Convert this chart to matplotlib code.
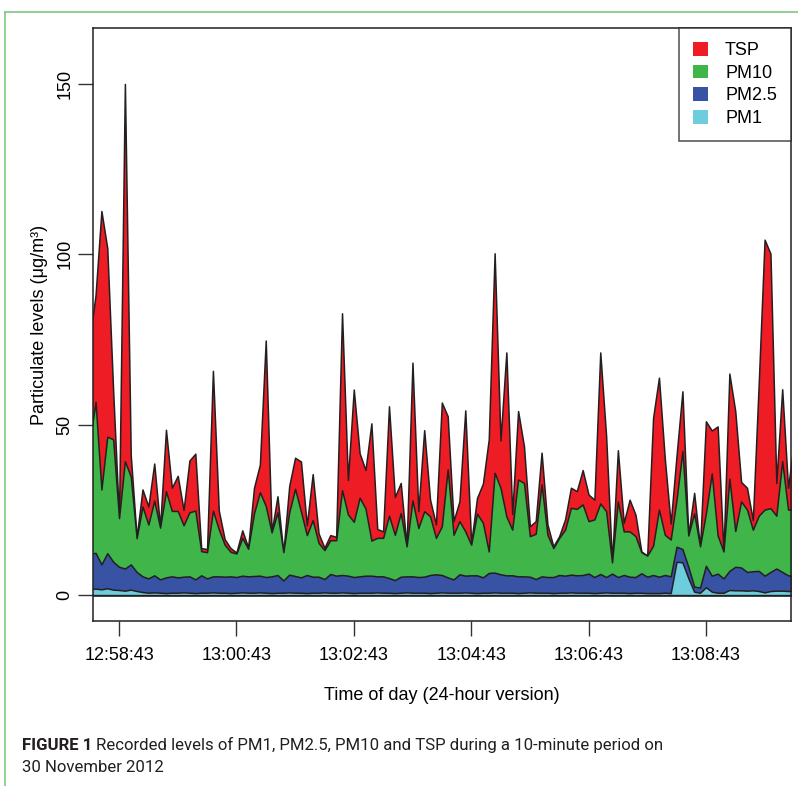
import matplotlib
matplotlib.use("Agg")
import matplotlib.pyplot as plt
import matplotlib.dates as mdates
from matplotlib.patches import Patch
from matplotlib.lines import Line2D
import pandas as pd

# 6-second samples, first one at 12:58:13 (just left of the plot edge)
start_time = "2012-11-30 12:58:13"
n_samples = 121

tsp = [75, 88, 112.7, 101.8, 60, 22.5, 150, 41, 17, 31,
       26, 38.6, 20, 48.5, 31.5, 35, 25, 39.5, 41.5, 13.8,
       13.5, 65.8, 24.8, 16.4, 13.8, 12.5, 19, 14, 31.5, 38.3,
       74.7, 18.5, 29, 12.5, 32, 40.3, 39.2, 20.5, 35.5, 18.1,
       13.9, 17.6, 17.1, 82.7, 33.8, 60.3, 41.6, 36.7, 50.4, 19.4,
       18.7, 55.4, 28.8, 32.9, 14.3, 68.2, 24.6, 48.4, 28, 20.7,
       56.5, 52.5, 21.7, 27.5, 54.2, 15.3, 28.5, 32.7, 45.7, 100.3,
       45.4, 71.2, 23.8, 54, 43.7, 20.2, 21.7, 41.8, 20.7, 14.3,
       17.3, 22.2, 31.5, 30.5, 36.7, 29.5, 28, 71.2, 46.7, 9.6,
       42.5, 21.2, 28, 23.6, 12.8, 11.6, 52, 63.8, 40, 21,
       41, 59.8, 17.6, 30, 14, 51, 48.3, 49.5, 12.7, 65,
       54, 33.2, 31.5, 22, 62, 104.3, 100.2, 32.9, 60.4, 31.5,
       45]

pm10 = [45, 56.7, 31, 46.5, 45.7, 22.6, 39.3, 34.8, 16.7, 26,
        20.7, 27.7, 19.8, 30.5, 24.7, 24.7, 20.5, 24.3, 24.8, 12.9,
        12.6, 24.8, 19.3, 14.8, 12.7, 12.2, 16.8, 13.6, 24, 30.2,
        26.2, 18.4, 24.3, 12.6, 24.3, 31.2, 24.5, 17.6, 22, 15.3,
        13.2, 16.1, 16.1, 30.8, 23.7, 21.5, 28.6, 25.4, 16, 16.8,
        16.8, 23.3, 17.7, 24.1, 14.3, 27.8, 19.7, 24.6, 23.1, 16.8,
        20.2, 36.9, 17.7, 21.7, 18.7, 14.8, 23.9, 21.2, 12.8, 35.9,
        31.5, 23.1, 19.2, 33.9, 32.9, 17.3, 18, 32.5, 17.7, 13.8,
        16.8, 19.2, 25.6, 25.3, 26.6, 21.7, 22.2, 26.9, 24.6, 9.6,
        27.5, 18.7, 18.7, 17.3, 12.6, 11.6, 14.5, 25.1, 17.7, 16.3,
        28, 42.3, 17.5, 24, 14.3, 24, 35.7, 17.5, 12.8, 34.2,
        18.8, 27.5, 25.1, 19.2, 23.3, 25.1, 25.5, 23.3, 39.3, 25.1,
        25]

pm25 = [12, 12.4, 9, 12.3, 9.8, 8.3, 7.8, 9, 6.8, 5.5,
        4.9, 5.8, 4.6, 5.2, 5.5, 5.2, 5.4, 5.5, 4.6, 5.8,
        4.9, 5.5, 5.5, 5.4, 5.5, 5.3, 5.7, 5.5, 5.6, 5.7,
        5.3, 5.5, 5.9, 4.3, 6.0, 5.6, 5.2, 5.9, 5.4, 5.4,
        4.7, 6.2, 5.7, 5.9, 5.7, 5.3, 5.5, 5.7, 5.7, 5.5,
        5.5, 5.0, 4.4, 5.4, 5.5, 5.5, 5.3, 5.4, 5.9, 6.1,
        5.9, 5.2, 4.6, 6.1, 5.7, 5.8, 5.8, 5.2, 6.5, 6.6,
        6.1, 5.8, 5.8, 5.5, 5.5, 5.4, 4.7, 5.5, 5.3, 5.3,
        5.9, 5.7, 6.0, 5.8, 5.9, 6.3, 5.3, 6.2, 5.3, 6.3,
        5.3, 5.9, 5.4, 5.3, 6.4, 5.4, 5.9, 5.4, 5.9, 5.5,
        14.2, 13.5, 8.3, 2.5, 2.2, 8.6, 5.7, 6.3, 4.9, 7.1,
        8.3, 8.1, 6.8, 7.0, 7.1, 5.7, 6.8, 7.8, 6.8, 5.8,
        5.6]

pm1 = [1.8, 1.9, 1.7, 2.0, 1.6, 1.5, 1.3, 1.6, 1.2, 0.9,
       0.7, 0.8, 0.7, 0.6, 0.7, 0.7, 0.8, 0.7, 0.6, 0.7,
       0.7, 0.8, 0.7, 0.7, 0.6, 0.7, 0.8, 0.7, 0.7, 0.8,
       0.7, 0.6, 0.7, 0.7, 0.8, 0.7, 0.7, 0.6, 0.7, 0.7,
       0.8, 0.7, 0.7, 0.8, 0.7, 0.6, 0.7, 0.7, 0.7, 0.8,
       0.7, 0.7, 0.6, 0.7, 0.8, 0.7, 0.7, 0.7, 0.6, 0.7,
       0.8, 0.7, 0.7, 0.7, 0.8, 0.7, 0.6, 0.7, 0.7, 0.8,
       0.7, 0.7, 0.7, 0.6, 0.7, 0.8, 0.7, 0.7, 0.7, 0.6,
       0.7, 0.7, 0.8, 0.7, 0.7, 0.7, 0.6, 0.7, 0.8, 0.7,
       0.7, 0.7, 0.6, 0.7, 0.7, 0.6, 0.6, 0.6, 0.7, 0.6,
       9.8, 9.6, 5.0, 1.0, 0.7, 2.3, 1.0, 0.7, 0.7, 1.5,
       1.4, 1.4, 1.3, 1.4, 1.2, 0.8, 1.2, 1.3, 1.3, 1.2,
       1.2]

series_names = ["TSP", "PM10", "PM2.5", "PM1"]
series_colors = ["#ee1c25", "#3fb54a", "#3953a4", "#6dcddd"]

tick_labels = ["12:58:43", "13:00:43", "13:02:43", "13:04:43", "13:06:43", "13:08:43"]
y_ticks = [0, 50, 100, 150]

times = pd.date_range(start_time, periods=n_samples, freq="6s")
x = mdates.date2num(times.to_pydatetime())
tick_pos = mdates.date2num(pd.to_datetime(["2012-11-30 " + t for t in tick_labels]).to_pydatetime())
x_lo = mdates.date2num(pd.Timestamp("2012-11-30 12:58:16.4").to_pydatetime())
x_hi = mdates.date2num(pd.Timestamp("2012-11-30 13:10:10").to_pydatetime())

plt.rcParams["font.family"] = ["Liberation Sans", "DejaVu Sans"]

fig = plt.figure(figsize=(7.98, 7.86), dpi=100)
ax = fig.add_axes([93 / 798, 1 - 621 / 786, (791 - 93) / 798, (621 - 28) / 786])

for vals, col in zip([tsp, pm10, pm25, pm1], series_colors):
    ax.fill_between(x, 0, vals, facecolor=col, edgecolor="#231f20", linewidth=1.1)

ax.set_xlim(x_lo, x_hi)
ax.set_ylim(-7.6, 166.4)
ax.set_xticks(tick_pos)
ax.set_xticklabels(tick_labels)
ax.set_yticks(y_ticks)
ax.set_yticklabels([str(v) for v in y_ticks], rotation=90, va="center")
ax.tick_params(axis="both", direction="out", length=11, width=1, labelsize=13, pad=8, color="#333333")
ax.tick_params(axis="y", pad=3)
for sp in ax.spines.values():
    sp.set_linewidth(1.1)
    sp.set_color("#231f20")

ax.set_xlabel("Time of day (24-hour version)", fontsize=13, labelpad=16)
ax.set_ylabel("Particulate levels (μg/m³)", fontsize=13, labelpad=6)

handles = [Patch(facecolor=c, edgecolor="none") for c in series_colors]
leg = ax.legend(handles, series_names, loc="upper right", fontsize=13, frameon=True,
                fancybox=False, borderaxespad=0, handlelength=0.8, handleheight=0.8,
                handletextpad=0.95, labelspacing=0.3, borderpad=0.78)
leg.get_frame().set_edgecolor("#231f20")
leg.get_frame().set_linewidth(1.1)

# thin green frame (left and top) of the figure panel
frame_col = "#7fc97f"
fig.add_artist(Line2D([5 / 798, 5 / 798], [0, 1 - 12 / 786], color=frame_col, linewidth=1.2))
fig.add_artist(Line2D([5 / 798, 1], [1 - 12 / 786, 1 - 12 / 786], color=frame_col, linewidth=1.2))

# caption, condensed look: shrink the size until the first line is ~640 px wide
cap_font = ["Roboto", "Liberation Sans", "DejaVu Sans"]
cap_rest = "Recorded levels of PM1, PM2.5, PM10 and TSP during a 10-minute period on"
renderer = fig.canvas.get_renderer()
cap_size = 12.5
t1 = fig.text(22 / 798, 1 - 745 / 786, "FIGURE 1", fontsize=cap_size, fontweight="bold",
              family=cap_font, va="center", color="#231f20")
t2 = fig.text(0, 1 - 745 / 786, cap_rest, fontsize=cap_size, family=cap_font,
              va="center", color="#231f20")
for _ in range(3):
    w = (t1.get_window_extent(renderer).width + 4 + t2.get_window_extent(renderer).width)
    cap_size = cap_size * 640 / w
    t1.set_fontsize(cap_size)
    t2.set_fontsize(cap_size)
t2.set_x((t1.get_window_extent(renderer).x1 + 4) / 798)
fig.text(22 / 798, 1 - 768 / 786, "30 November 2012", fontsize=cap_size, family=cap_font,
         va="center", color="#231f20")

fig.savefig("out.png", dpi=100)
